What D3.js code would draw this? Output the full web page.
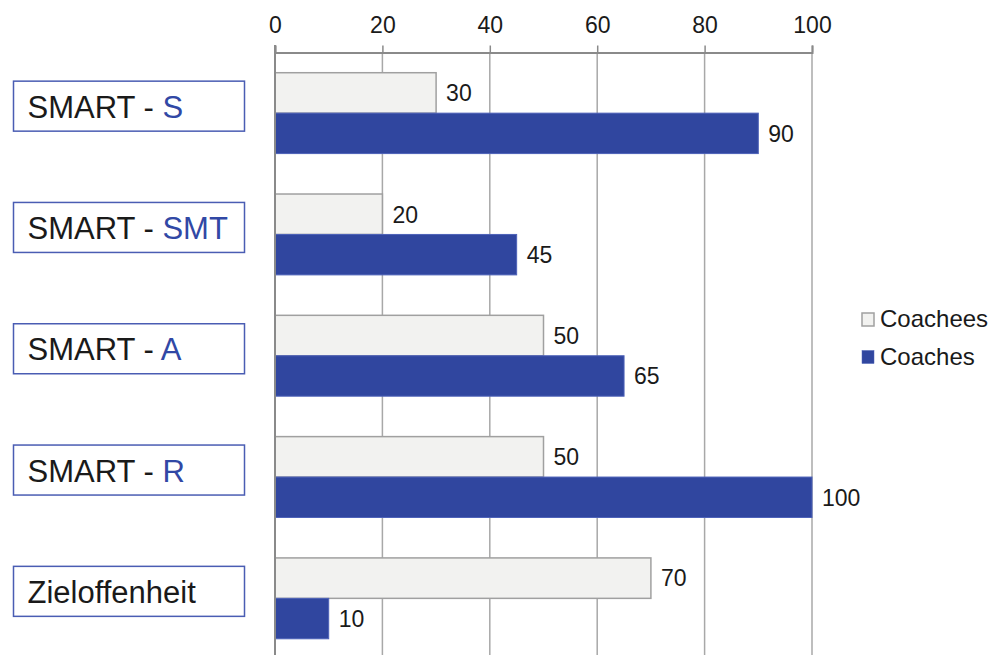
<!DOCTYPE html>
<html>
<head>
<meta charset="utf-8">
<script src="https://cdn.jsdelivr.net/npm/d3@7"></script>
<style>
  body { margin: 0; background: #fff; }
  svg { display: block; font-family: "Liberation Sans", Arial, sans-serif; }
</style>
</head>
<body>
<svg width="1001" height="655"></svg>
<script>
// chart data
const categories = ["S", "SMT", "A", "R", "Zieloffenheit"];
const labelPrefix = ["SMART - ", "SMART - ", "SMART - ", "SMART - ", ""];
const labelHighlight = ["S", "SMT", "A", "R", ""];
const labelPlain = ["", "", "", "", "Zieloffenheit"];
const seriesNames = ["Coachees", "Coaches"];
const coachees = [30, 20, 50, 50, 70];
const coaches = [90, 45, 65, 100, 10];
const xTicks = [0, 20, 40, 60, 80, 100];

const colors = { Coachees: "#f2f2f0", Coaches: "#30469f" };
const strokes = { Coachees: "#a0a0a0", Coaches: "#4d62b8" };
const seriesValues = { Coachees: coachees, Coaches: coaches };

const svg = d3.select("svg");

const x = d3.scaleLinear().domain([0, 100]).range([275, 812]);
const y = d3.scaleBand()
  .domain(categories)
  .range([52.5, 659])
  .paddingInner(1 / 3)
  .paddingOuter(1 / 6);
const ySub = d3.scaleBand().domain(seriesNames).range([0, y.bandwidth()]);

// gridlines
svg.append("g")
  .selectAll("line")
  .data(xTicks.slice(1))
  .join("line")
  .attr("x1", (d) => x(d))
  .attr("x2", (d) => x(d))
  .attr("y1", 52.5)
  .attr("y2", 655)
  .attr("stroke", "#a8a8a8")
  .attr("stroke-width", 1.5);

// top axis
const axis = svg.append("g")
  .attr("transform", "translate(0,52.5)")
  .call(d3.axisTop(x).tickValues(xTicks).tickSize(7).tickSizeOuter(7).tickPadding(13));
axis.select(".domain").attr("stroke", "#8a8a8a").attr("stroke-width", 2);
axis.selectAll(".tick line").attr("stroke", "#8a8a8a").attr("stroke-width", 1.5);
axis.selectAll(".tick text")
  .attr("font-size", 23)
  .attr("dy", "0")
  .attr("y", -20)
  .attr("fill", "#1a1a1a")
  .attr("font-family", "Liberation Sans, Arial, sans-serif");

// bars
const groups = svg.append("g")
  .selectAll("g")
  .data(categories)
  .join("g")
  .attr("transform", (d) => `translate(0,${y(d)})`);

seriesNames.forEach((s) => {
  groups.append("rect")
    .attr("x", x(0))
    .attr("y", ySub(s))
    .attr("width", (d, i) => x(seriesValues[s][i]) - x(0))
    .attr("height", ySub.bandwidth())
    .attr("fill", colors[s])
    .attr("stroke", strokes[s])
    .attr("stroke-width", s === "Coachees" ? 1.5 : 1);

  groups.append("text")
    .attr("x", (d, i) => x(seriesValues[s][i]) + 10)
    .attr("y", ySub(s) + ySub.bandwidth() / 2)
    .attr("dy", "0.36em")
    .attr("font-size", 23)
    .attr("fill", "#1a1a1a")
    .text((d, i) => seriesValues[s][i]);
});

// left axis line
svg.append("line")
  .attr("x1", x(0))
  .attr("x2", x(0))
  .attr("y1", 45)
  .attr("y2", 655)
  .attr("stroke", "#8a8a8a")
  .attr("stroke-width", 2);

// category label boxes
const boxes = svg.append("g")
  .selectAll("g")
  .data(categories)
  .join("g")
  .attr("transform", (d) => `translate(13.5,${y(d) + y.bandwidth() / 2 - 7})`);

boxes.append("rect")
  .attr("x", 0)
  .attr("y", -25)
  .attr("width", 231)
  .attr("height", 50)
  .attr("fill", "#fff")
  .attr("stroke", "#4a5db3")
  .attr("stroke-width", 1.5);

const label = boxes.append("text")
  .attr("x", 14)
  .attr("y", 11.5)
  .attr("font-size", 31)
  .attr("fill", "#1a1a1a");
label.append("tspan").text((d, i) => labelPrefix[i] + labelPlain[i]);
label.append("tspan").attr("fill", "#3148a5").text((d, i) => labelHighlight[i]);

// legend
const legend = svg.append("g")
  .selectAll("g")
  .data(seriesNames)
  .join("g")
  .attr("transform", (d, i) => `translate(862,${313 + i * 37.5})`);

legend.append("rect")
  .attr("width", 12)
  .attr("height", 13)
  .attr("fill", (d) => colors[d])
  .attr("stroke", (d) => strokes[d])
  .attr("stroke-width", (d) => (d === "Coachees" ? 1.5 : 0.5));

legend.append("text")
  .attr("x", 18)
  .attr("y", 14)
  .attr("font-size", 24)
  .attr("fill", "#1a1a1a")
  .text((d) => d);
</script>
</body>
</html>
